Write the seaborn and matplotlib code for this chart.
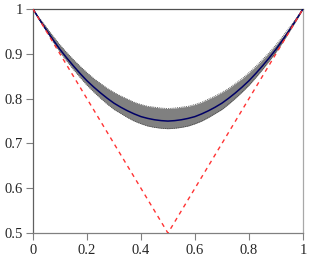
import numpy as np
import matplotlib
matplotlib.use("Agg")
import matplotlib.pyplot as plt
import seaborn as sns
import pandas as pd

# values
x_vals = [0.0, 0.025, 0.05, 0.075, 0.1, 0.125, 0.15, 0.175, 0.2, 0.225, 0.25,
          0.275, 0.3, 0.325, 0.35, 0.375, 0.4, 0.425, 0.45, 0.475, 0.5,
          0.525, 0.55, 0.575, 0.6, 0.625, 0.65, 0.675, 0.7, 0.725, 0.75,
          0.775, 0.8, 0.825, 0.85, 0.875, 0.9, 0.925, 0.95, 0.975, 1.0]
mean_curve = [1.0, 0.976, 0.953, 0.931, 0.910, 0.891, 0.873, 0.856, 0.840, 0.826, 0.813,
              0.801, 0.790, 0.781, 0.773, 0.766, 0.760, 0.756, 0.753, 0.751, 0.750,
              0.751, 0.753, 0.756, 0.760, 0.766, 0.773, 0.781, 0.790, 0.801, 0.813,
              0.826, 0.840, 0.856, 0.873, 0.891, 0.910, 0.931, 0.953, 0.976, 1.0]
band_upper = [1.0, 0.979, 0.959, 0.939, 0.920, 0.903, 0.887, 0.872, 0.858, 0.845, 0.834,
              0.823, 0.814, 0.806, 0.799, 0.792, 0.787, 0.783, 0.781, 0.779, 0.778,
              0.779, 0.781, 0.783, 0.787, 0.792, 0.799, 0.806, 0.814, 0.823, 0.834,
              0.845, 0.858, 0.872, 0.887, 0.903, 0.920, 0.939, 0.959, 0.979, 1.0]
band_lower = [1.0, 0.974, 0.950, 0.926, 0.904, 0.884, 0.865, 0.847, 0.830, 0.815, 0.801,
              0.788, 0.776, 0.767, 0.758, 0.750, 0.744, 0.739, 0.736, 0.734, 0.733,
              0.734, 0.736, 0.739, 0.744, 0.750, 0.758, 0.767, 0.776, 0.788, 0.801,
              0.815, 0.830, 0.847, 0.865, 0.884, 0.904, 0.926, 0.950, 0.974, 1.0]
bound_x = [0.0, 0.5, 1.0]
bound_y = [1.0, 0.5, 1.0]
xtick_vals = [0, 0.2, 0.4, 0.6, 0.8, 1]
xtick_labels = ["0", "0.2", "0.4", "0.6", "0.8", "1"]
ytick_vals = [0.5, 0.6, 0.7, 0.8, 0.9, 1]
ytick_labels = ["0.5", "0.6", "0.7", "0.8", "0.9", "1"]

df = pd.DataFrame({"x": x_vals, "mean": mean_curve, "hi": band_upper, "lo": band_lower})
bound = pd.DataFrame({"x": bound_x, "y": bound_y})

sns.set_style("ticks")
plt.rcParams['font.family'] = ['Liberation Serif', 'DejaVu Serif']

fig = plt.figure(figsize=(3.11, 2.59), dpi=100)
ax = fig.add_axes([0.106, 0.100, 0.868, 0.865])

# shaded band with dotted edges, mean curve, and the V-shaped bound
ax.fill_between(df["x"], df["lo"], df["hi"], color="#808080", lw=0, zorder=1)
sns.lineplot(data=df, x="x", y="hi", ax=ax, color="#404040", lw=0.6, ls=(0, (1, 1.2)), zorder=2)
sns.lineplot(data=df, x="x", y="lo", ax=ax, color="#404040", lw=0.6, ls=(0, (1, 1.2)), zorder=2)
sns.lineplot(data=df, x="x", y="mean", ax=ax, color="#000066", lw=1.1, zorder=3)
sns.lineplot(data=bound, x="x", y="y", ax=ax, color="#ff3333", lw=1.0, ls=(0, (3, 3)), zorder=4)

ax.set_xlim(0, 1)
ax.set_ylim(0.5, 1)
ax.set_xticks(xtick_vals)
ax.set_xticklabels(xtick_labels, fontfamily="Liberation Serif", fontsize=10.5)
ax.set_yticks(ytick_vals)
ax.set_yticklabels(ytick_labels, fontfamily="Liberation Serif", fontsize=10.5)
ax.set_xlabel("")
ax.set_ylabel("")
ax.tick_params(length=5, width=0.8, color="#808080")
ax.tick_params(axis="x", pad=3)
ax.tick_params(axis="y", pad=2)

ax.spines["left"].set_color("#606060")
ax.spines["bottom"].set_color("#808080")
ax.spines["top"].set_color("#505050")
ax.spines["right"].set_color("#a8a8a8")
for s in ax.spines.values():
    s.set_linewidth(0.9)

fig.savefig("out.png", dpi=100)
